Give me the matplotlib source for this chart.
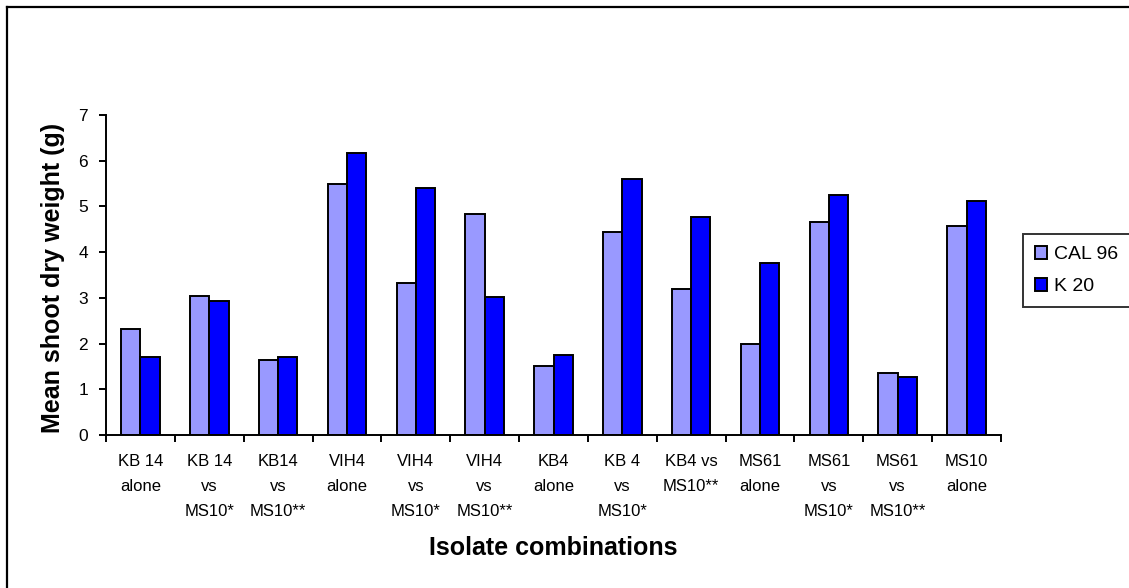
import matplotlib
matplotlib.use('Agg')
from matplotlib import pyplot as plt
from matplotlib.lines import Line2D
import numpy as np

# data
categories = ['KB 14\nalone', 'KB 14\nvs\nMS10*', 'KB14\nvs\nMS10**', 'VIH4\nalone',
              'VIH4\nvs\nMS10*', 'VIH4\nvs\nMS10**', 'KB4\nalone', 'KB 4\nvs\nMS10*',
              'KB4 vs\nMS10**', 'MS61\nalone', 'MS61\nvs\nMS10*', 'MS61\nvs\nMS10**',
              'MS10\nalone']
cal96 = [2.32, 3.04, 1.65, 5.50, 3.32, 4.84, 1.52, 4.45, 3.19, 2.00, 4.67, 1.35, 4.58]
k20 = [1.70, 2.93, 1.70, 6.16, 5.41, 3.01, 1.74, 5.59, 4.76, 3.76, 5.24, 1.27, 5.11]
series_names = ['CAL 96', 'K 20']
series_colors = ['#9999FF', '#0000FF']
y_ticks = [0, 1, 2, 3, 4, 5, 6, 7]

plt.rcParams['font.family'] = ['Liberation Sans', 'DejaVu Sans']

fig = plt.figure(figsize=(11.29, 5.88), dpi=100)
ax = fig.add_axes([106 / 1129, 1 - 435 / 588, 895 / 1129, 320 / 588])

x = np.arange(len(categories))
w = 0.28
ax.bar(x - w / 2, cal96, w, color=series_colors[0], edgecolor='black', linewidth=1.4, label=series_names[0])
ax.bar(x + w / 2, k20, w, color=series_colors[1], edgecolor='black', linewidth=1.4, label=series_names[1])

ax.set_xlim(-0.5, len(categories) - 0.5)
ax.set_ylim(0, 7)
ax.set_yticks(y_ticks)

# ticks on the category borders, labels at the centres
ax.set_xticks(np.arange(len(categories) + 1) - 0.5)
ax.set_xticklabels([])
ax.set_xticks(x, minor=True)
ax.set_xticklabels(categories, minor=True, fontsize=12, linespacing=1.8)
ax.tick_params(axis='x', which='minor', length=0, pad=14)
ax.tick_params(axis='x', which='major', length=5, width=1.4, direction='out')
ax.tick_params(axis='y', length=5, width=1.4, direction='out', pad=8, labelsize=12.5)

for s in ['top', 'right']:
    ax.spines[s].set_visible(False)
for s in ['left', 'bottom']:
    ax.spines[s].set_linewidth(1.4)

ax.set_ylabel('Mean shoot dry weight (g)', fontsize=18, fontweight='bold', va='center')
ax.yaxis.set_label_coords(-0.059, 0.49)
ax.set_xlabel('Isolate combinations', fontsize=18, fontweight='bold', va='center')
ax.xaxis.set_label_coords(0.5, -0.353)

fig.legend(loc='upper left', bbox_to_anchor=(1023 / 1129, 1 - 234 / 588),
           fontsize=14, frameon=True, fancybox=False, edgecolor='black',
           handlelength=0.65, handleheight=0.65, handletextpad=0.35,
           labelspacing=0.75, borderpad=0.6, borderaxespad=0)
fig.legends[0].get_frame().set_linewidth(1.4)

# outer chart border (only left and top edges fall inside the picture)
fig.add_artist(Line2D([7 / 1129, 7 / 1129], [0, 1 - 7 / 588], color='black', linewidth=1.6))
fig.add_artist(Line2D([7 / 1129, 1], [1 - 7 / 588, 1 - 7 / 588], color='black', linewidth=1.6))

fig.savefig('out.png', dpi=100)
